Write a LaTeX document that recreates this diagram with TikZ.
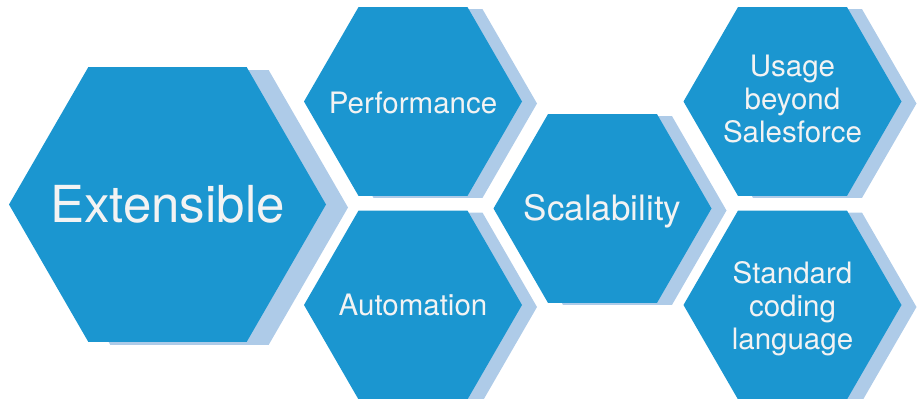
\documentclass[tikz,border=0pt]{standalone}
\usepackage{fontspec}
\setmainfont{TeX Gyre Heros}
\usetikzlibrary{shapes.geometric, shadows, positioning}
\definecolor{hexblue}{RGB}{27,150,208}
\definecolor{hexshade}{RGB}{174,203,232}
\definecolor{hextext}{RGB}{243,243,243}
\tikzset{
  hexbase/.style={regular polygon, regular polygon sides=6, fill=hexblue, inner sep=0pt, outer sep=0pt},
  hex/.style={hexbase, minimum size=218pt,
    general shadow={fill=hexshade, shadow xshift=15pt, shadow yshift=-2pt}},
  bighex/.style={hexbase, minimum size=317pt,
    general shadow={fill=hexshade, shadow xshift=22pt, shadow yshift=-3pt}},
  hexlabel/.style={text=hextext, align=center, inner sep=0pt, font=\fontsize{29.5}{33}\selectfont}
}

\begin{document}
\begin{tikzpicture}[x=1pt, y=1pt]
\useasboundingbox (0,0) rectangle (922,-399);

% Main hexagon
\node[bighex] (ext) at (167.5,-204.5) {};
\node[hexlabel, font=\fontsize{51}{60}\selectfont] (ext-txt) at (ext) {Extensible};

% Middle column
\node[hex] (perf) at (413,-101.5) {};
\node[hexlabel] (perf-txt) at ([yshift=-1pt]perf) {Performance};
\node[hex] (auto) at (413,-305) {};
\node[hexlabel] (auto-txt) at (auto) {Automation};
\node[hex] (scal) at (602.5,-208.5) {};
\node[hexlabel, font=\fontsize{35}{40}\selectfont] (scal-txt) at ([yshift=-2.5pt]scal) {Scalability};

% Right column
\node[hex] (usage) at (792.5,-101.5) {};
\node[hexlabel] (usage-txt) at ([yshift=2pt]usage) {Usage\\beyond\\Salesforce};
\node[hex] (std) at (792.5,-305) {};
\node[hexlabel] (std-txt) at ([yshift=-3.5pt]std) {Standard\\coding\\language};

\end{tikzpicture}
\end{document}
